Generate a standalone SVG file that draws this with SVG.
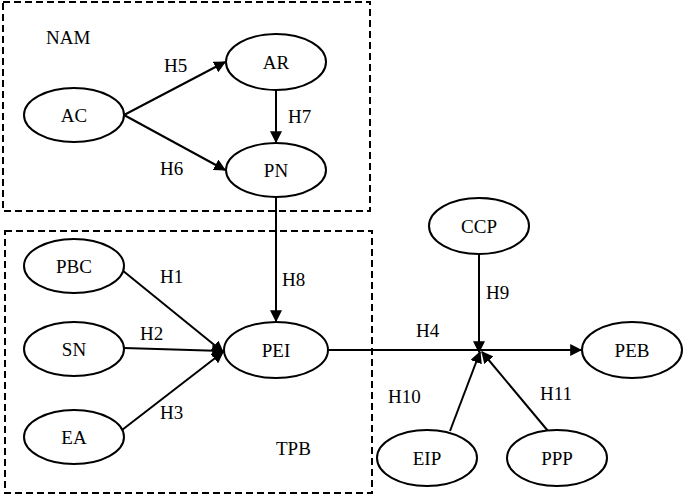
<svg xmlns="http://www.w3.org/2000/svg" width="685" height="496" viewBox="0 0 685 496">
<style>
.box{fill:none;stroke:#000;stroke-width:2;stroke-dasharray:7,4}
ellipse{fill:#fff;stroke:#000;stroke-width:2}
text{font-family:"Liberation Serif",serif;font-size:19px;fill:#000}
.c{text-anchor:middle;dominant-baseline:central}
.e{stroke:#000;stroke-width:2;fill:none;marker-end:url(#a)}
</style>
<defs><marker id="a" viewBox="0 0 10 10" refX="9" refY="5" markerWidth="6" markerHeight="6" orient="auto"><path d="M0,0L10,5L0,10z" fill="#000"/></marker></defs>
<rect width="685" height="496" fill="#fff"/>
<rect class="box" x="3" y="2" width="367" height="209"/>
<rect class="box" x="5" y="231" width="367" height="262"/>
<text x="46" y="44">NAM</text>
<text x="276" y="455">TPB</text>
<g id="connectors">
<line class="e" x1="124" y1="115" x2="225" y2="62"/>
<line class="e" x1="124" y1="115" x2="225" y2="170"/>
<line class="e" x1="276" y1="90" x2="276" y2="142"/>
<line class="e" x1="276" y1="197" x2="276" y2="321"/>
<line class="e" x1="122" y1="270" x2="223" y2="352"/>
<line class="e" x1="124" y1="348" x2="223" y2="351"/>
<line class="e" x1="122" y1="430" x2="223" y2="352"/>
<line class="e" x1="328" y1="350" x2="581" y2="350"/>
<line class="e" x1="479" y1="254" x2="479" y2="352"/>
<line class="e" x1="450" y1="431" x2="480" y2="352"/>
<line class="e" x1="548" y1="431" x2="482" y2="352"/>
<text x="164" y="72">H5</text>
<text x="160" y="175">H6</text>
<text x="288" y="123">H7</text>
<text x="282" y="286">H8</text>
<text x="160" y="283">H1</text>
<text x="140" y="340">H2</text>
<text x="160" y="419">H3</text>
<text x="416" y="337">H4</text>
<text x="486" y="299">H9</text>
<text x="388" y="403">H10</text>
<text x="540" y="400">H11</text>
</g>
<g id="AC"><ellipse cx="74" cy="115" rx="50" ry="27"/><text class="c" x="74" y="115">AC</text></g>
<g id="AR"><ellipse cx="276" cy="62" rx="50" ry="28"/><text class="c" x="276" y="62">AR</text></g>
<g id="PN"><ellipse cx="276" cy="170" rx="50" ry="27"/><text class="c" x="276" y="170">PN</text></g>
<g id="PBC"><ellipse cx="74" cy="266" rx="50" ry="27"/><text class="c" x="74" y="266">PBC</text></g>
<g id="SN"><ellipse cx="74" cy="349" rx="50" ry="27"/><text class="c" x="74" y="349">SN</text></g>
<g id="EA"><ellipse cx="74" cy="437" rx="50" ry="27"/><text class="c" x="74" y="437">EA</text></g>
<g id="PEI"><ellipse cx="276" cy="350" rx="52" ry="28"/><text class="c" x="276" y="350">PEI</text></g>
<g id="CCP"><ellipse cx="479" cy="226" rx="50" ry="28"/><text class="c" x="479" y="226">CCP</text></g>
<g id="PEB"><ellipse cx="632" cy="350" rx="50" ry="28"/><text class="c" x="632" y="350">PEB</text></g>
<g id="EIP"><ellipse cx="427" cy="458" rx="50" ry="28"/><text class="c" x="427" y="458">EIP</text></g>
<g id="PPP"><ellipse cx="557" cy="458" rx="50" ry="28"/><text class="c" x="557" y="458">PPP</text></g>
</svg>
